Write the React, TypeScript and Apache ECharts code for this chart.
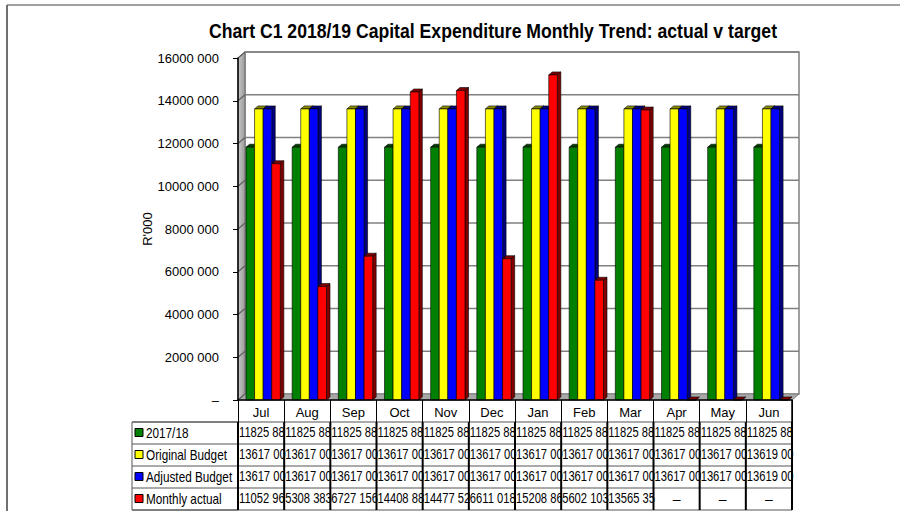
import React, { useEffect, useRef } from "react";
import * as echarts from "echarts";

const months = ["Jul", "Aug", "Sep", "Oct", "Nov", "Dec", "Jan", "Feb", "Mar", "Apr", "May", "Jun"];
const seriesNames = ["2017/18", "Original Budget", "Adjusted Budget", "Monthly actual"];
const prevYear = [11825883, 11825883, 11825883, 11825883, 11825883, 11825883, 11825883, 11825883, 11825883, 11825883, 11825883, 11825883];
const originalBudget = [13617000, 13617000, 13617000, 13617000, 13617000, 13617000, 13617000, 13617000, 13617000, 13617000, 13617000, 13619000];
const adjustedBudget = [13617000, 13617000, 13617000, 13617000, 13617000, 13617000, 13617000, 13617000, 13617000, 13617000, 13617000, 13619000];
const monthlyActual = [11052963, 5308383, 6727156, 14408884, 14477525, 6611018, 15208865, 5602103, 13565354, 0, 0, 0];
const yTicks = [0, 2000000, 4000000, 6000000, 8000000, 10000000, 12000000, 14000000, 16000000];

const allSeries = [prevYear, originalBudget, adjustedBudget, monthlyActual];
const frontColors = ["#008000", "#ffff00", "#0000ff", "#ff0000"];
const darkColors = ["#004000", "#8c8c00", "#000080", "#800000"];

const FONT = "'Liberation Sans', Arial, sans-serif";
const NARROW = 0.8;

const W = 900;
const H = 511;
const GL = 238;
const GR = 792;
const GT = 58;
const GB = 400;
const DX = 7;
const DY = 6;
const YMAX = 16000000;
const ROWS = [422, 444, 466, 488, 510];
const LABEL_X = 132;

function fmt(v: number): string {
  if (v === 0) return "–";
  const th = Math.floor(v / 1000);
  const rest = String(v % 1000).padStart(3, "0");
  return th + " " + rest;
}

function yPix(v: number) {
  return GB - (v / YMAX) * (GB - GT);
}

function buildGraphics() {
  const g: any[] = [];
  g.push({ type: "line", shape: { x1: 7, y1: 5, x2: W, y2: 5 }, style: { stroke: "#808080", lineWidth: 1.5 }, z: 0 });
  g.push({ type: "line", shape: { x1: 7, y1: 5, x2: 7, y2: H }, style: { stroke: "#707070", lineWidth: 2 }, z: 0 });
  g.push({
    type: "rect",
    shape: { x: GL + DX, y: GT - DY, width: GR - GL, height: GB - GT },
    style: { fill: "#ffffff", stroke: "#808080", lineWidth: 1.5 },
    z: 0,
  });
  g.push({
    type: "polygon",
    shape: { points: [[GL, GT], [GL + DX, GT - DY], [GL + DX, GB - DY], [GL, GB]] },
    style: {
      fill: new echarts.graphic.LinearGradient(0, 0, 1, 0, [
        { offset: 0, color: "#c8c8c8" },
        { offset: 1, color: "#9a9a9a" },
      ]),
      stroke: "#707070",
      lineWidth: 1,
    },
    z: 0,
  });
  g.push({
    type: "polygon",
    shape: { points: [[GL, GB], [GL + DX, GB - DY], [GR + DX, GB - DY], [GR, GB]] },
    style: { fill: "#a8a8a8", stroke: "#808080", lineWidth: 1 },
    z: 0,
  });
  yTicks.forEach((v) => {
    const y = yPix(v);
    if (v > 0) {
      g.push({ type: "line", shape: { x1: GL + DX, y1: y - DY, x2: GR + DX, y2: y - DY }, style: { stroke: "#808080", lineWidth: 1.5 }, z: 1 });
    }
    g.push({ type: "line", shape: { x1: GL, y1: y, x2: GL + DX, y2: y - DY }, style: { stroke: "#606060", lineWidth: 1.2 }, z: 1 });
  });

  g.push({
    type: "text",
    x: 493,
    y: 30,
    scaleX: 0.84,
    style: {
      text: "Chart C1 2018/19 Capital Expenditure Monthly Trend: actual v target",
      font: "bold 21px " + FONT,
      fill: "#000",
      align: "center",
      verticalAlign: "middle",
    },
    z: 10,
  });

  const cw = (GR - GL) / months.length;
  g.push({
    type: "rect",
    shape: { x: LABEL_X, y: ROWS[0], width: GL - LABEL_X, height: ROWS[4] - ROWS[0] },
    style: { fill: "none", stroke: "#555", lineWidth: 1 },
    z: 10,
  });
  ROWS.forEach((y) => {
    g.push({ type: "line", shape: { x1: LABEL_X, y1: y, x2: GR, y2: y }, style: { stroke: "#555", lineWidth: 1 }, z: 10 });
  });
  for (let i = 0; i <= months.length; i++) {
    const x = GL + i * cw;
    g.push({ type: "line", shape: { x1: x, y1: ROWS[0], x2: x, y2: ROWS[4] }, style: { stroke: "#000", lineWidth: 2 }, z: 12 });
  }
  g.push({ type: "line", shape: { x1: GR, y1: GB, x2: GR, y2: ROWS[0] }, style: { stroke: "#000", lineWidth: 1.5 }, z: 12 });

  seriesNames.forEach((name, r) => {
    const yc = (ROWS[r] + ROWS[r + 1]) / 2;
    g.push({
      type: "rect",
      shape: { x: 135, y: yc - 4.5, width: 8, height: 8 },
      style: { fill: frontColors[r], stroke: "#000", lineWidth: 1 },
      z: 11,
    });
    g.push({
      type: "text",
      x: 146,
      y: yc,
      scaleX: 0.84,
      style: { text: name, font: "14px " + FONT, fill: "#000", align: "left", verticalAlign: "middle" },
      z: 11,
    });
    allSeries[r].forEach((v, i) => {
      const x0 = GL + i * cw;
      if (v === 0) {
        g.push({
          type: "text",
          x: x0 + cw / 2,
          y: yc,
          style: { text: "–", font: "14px " + FONT, fill: "#000", align: "center", verticalAlign: "middle" },
          z: 11,
        });
      } else {
        g.push({
          type: "text",
          x: x0 + 1,
          y: yc,
          scaleX: NARROW,
          style: {
            text: fmt(v),
            font: "14px " + FONT,
            fill: "#000",
            align: "left",
            verticalAlign: "middle",
            width: (cw + 2) / NARROW,
            overflow: "truncate",
            ellipsis: "",
          },
          z: 11,
        });
      }
    });
  });
  return g;
}

function makeSeries(idx: number) {
  return {
    type: "custom",
    name: seriesNames[idx],
    data: allSeries[idx].map((v, i) => [i, v]),
    encode: { x: 0, y: 1 },
    z: 5,
    renderItem: (params: any, api: any) => {
      const ci = api.value(0);
      const val = api.value(1);
      const center = api.coord([ci, 0]);
      const top = api.coord([ci, val]);
      const band = api.size([1, 0])[0];
      const bw = band * 0.186;
      const x = center[0] - band / 2 + band * 0.173 + idx * bw;
      const yb = center[1];
      const yt = top[1];
      const dx = 3.5;
      const dy = 3;
      return {
        type: "group",
        children: [
          {
            type: "polygon",
            shape: { points: [[x + bw, yt], [x + bw + dx, yt - dy], [x + bw + dx, yb - dy], [x + bw, yb]] },
            style: { fill: darkColors[idx], stroke: "#000", lineWidth: 0.6 },
          },
          {
            type: "polygon",
            shape: { points: [[x, yt], [x + dx, yt - dy], [x + bw + dx, yt - dy], [x + bw, yt]] },
            style: { fill: darkColors[idx], stroke: "#000", lineWidth: 0.6 },
          },
          {
            type: "rect",
            shape: { x: x, y: yt, width: bw, height: yb - yt },
            style: { fill: frontColors[idx], stroke: "#000", lineWidth: 0.6 },
          },
        ],
      };
    },
  };
}

export default function App() {
  const ref = useRef<HTMLDivElement>(null);
  useEffect(() => {
    if (!ref.current) return;
    const chart = echarts.init(ref.current, null, { renderer: "svg" });
    chart.setOption({
      animation: false,
      backgroundColor: "#ffffff",
      grid: { left: GL, right: W - GR, top: GT, bottom: H - GB, containLabel: false },
      xAxis: {
        type: "category",
        data: months,
        z: 12,
        axisLine: { show: true, lineStyle: { color: "#000", width: 1.5 } },
        axisTick: { show: true, length: ROWS[0] - GB, lineStyle: { color: "#000", width: 1 } },
        axisLabel: { color: "#000", fontSize: 13, fontFamily: FONT, margin: 6 },
        splitLine: { show: false },
      },
      yAxis: {
        type: "value",
        min: 0,
        max: YMAX,
        interval: 2000000,
        z: 12,
        name: "R'000",
        nameLocation: "middle",
        nameGap: 84,
        nameRotate: 90,
        nameMoveOverlap: false,
        nameTextStyle: { color: "#000", fontSize: 13, fontFamily: FONT },
        axisLine: { show: true, lineStyle: { color: "#000", width: 1.5 } },
        axisTick: { show: true, length: 5, lineStyle: { color: "#000" } },
        axisLabel: { color: "#000", fontSize: 13, fontFamily: FONT, margin: 19, formatter: (v: number) => fmt(v) },
        splitLine: { show: false },
      },
      graphic: buildGraphics(),
      series: [0, 1, 2, 3].map(makeSeries),
    });
    return () => chart.dispose();
  }, []);
  return <div ref={ref} style={{ width: W, height: H, position: "absolute", left: 0, top: 0 }} />;
}
